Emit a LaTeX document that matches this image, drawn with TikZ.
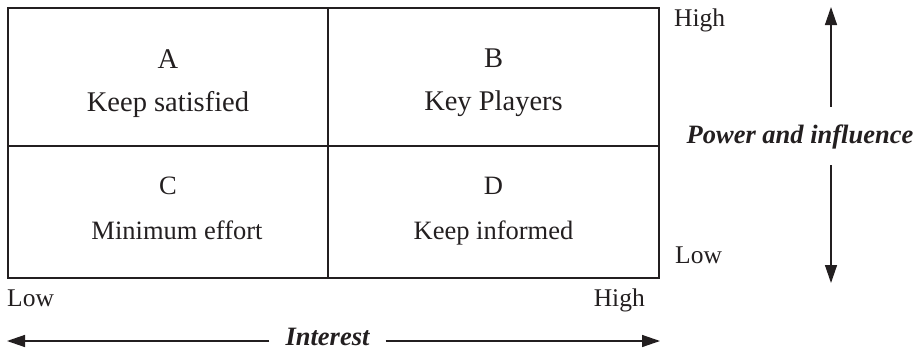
\documentclass[tikz,border=0pt]{standalone}
\usepackage{fontspec}
\setmainfont{Liberation Serif}
\usetikzlibrary{arrows.meta, positioning}
\definecolor{ink}{RGB}{35,31,32}
\tikzset{
  cell/.style={rectangle, draw=ink, line width=1.6pt, inner sep=0pt, outer sep=0pt, anchor=north west},
  celltext/.style={align=center, inner sep=0pt, text=ink, font=\fontsize{28.5}{43}\selectfont},
  lowtext/.style={celltext, font=\fontsize{26.5}{45}\selectfont},
  level/.style={inner sep=0pt, text=ink, font=\fontsize{25.5}{30}\selectfont},
  axis/.style={inner xsep=16pt, inner ysep=0pt, text=ink, font=\fontsize{26.5}{30}\selectfont\bfseries\itshape},
  arrow/.style={-{Triangle[length=18pt, width=12pt]}, line width=1.4pt, draw=ink}
}

\begin{document}
\begin{tikzpicture}[x=1pt, y=-1pt]
  \useasboundingbox (0,0) rectangle (918,351);
  \node[cell, minimum width=320pt, minimum height=138pt] (cellA) at (8,8) {};
  \node[cell, minimum width=331pt, minimum height=138pt, right=0pt of cellA] (cellB) {};
  \node[cell, minimum width=320pt, minimum height=132pt, below=0pt of cellA] (cellC) {};
  \node[cell, minimum width=331pt, minimum height=132pt, right=0pt of cellC] (cellD) {};
  \node[celltext, below=41pt of cellA.north] (txtA) {A\\Keep satisfied};
  \node[celltext, below=41pt of cellB.north] (txtB) {B\\Key Players};
  \node[lowtext, below=31pt of cellC.north] (txtC) {C\\\hspace*{18pt}Minimum effort};
  \node[lowtext, below=31pt of cellD.north] (txtD) {D\\Keep informed};
  \node[level, anchor=base west] (powHigh) at (674,26) {High};
  \node[level, anchor=base west] (powLow) at (675,263) {Low};
  \node[level, anchor=base west] (intLow) at (7,306) {Low};
  \node[level, anchor=base east] (intHigh) at (645,306) {High};
  \node[axis, text height=20pt, text depth=6pt, inner ysep=16pt] (power) at (800,136) {Power and influence};
  \node[axis, text height=19pt, text depth=11pt] (interest) at (327.5,341) {Interest};
  \coordinate (powTop) at (831,7);
  \coordinate (powBot) at (831,283);
  \coordinate (intLeft) at (7,341);
  \coordinate (intRight) at (660,341);
  \draw[arrow] (power.north -| powTop) -- (powTop);
  \draw[arrow] (power.south -| powBot) -- (powBot);
  \draw[arrow] (interest.west) -- (intLeft);
  \draw[arrow] (interest.east) -- (intRight);
\end{tikzpicture}
\end{document}
